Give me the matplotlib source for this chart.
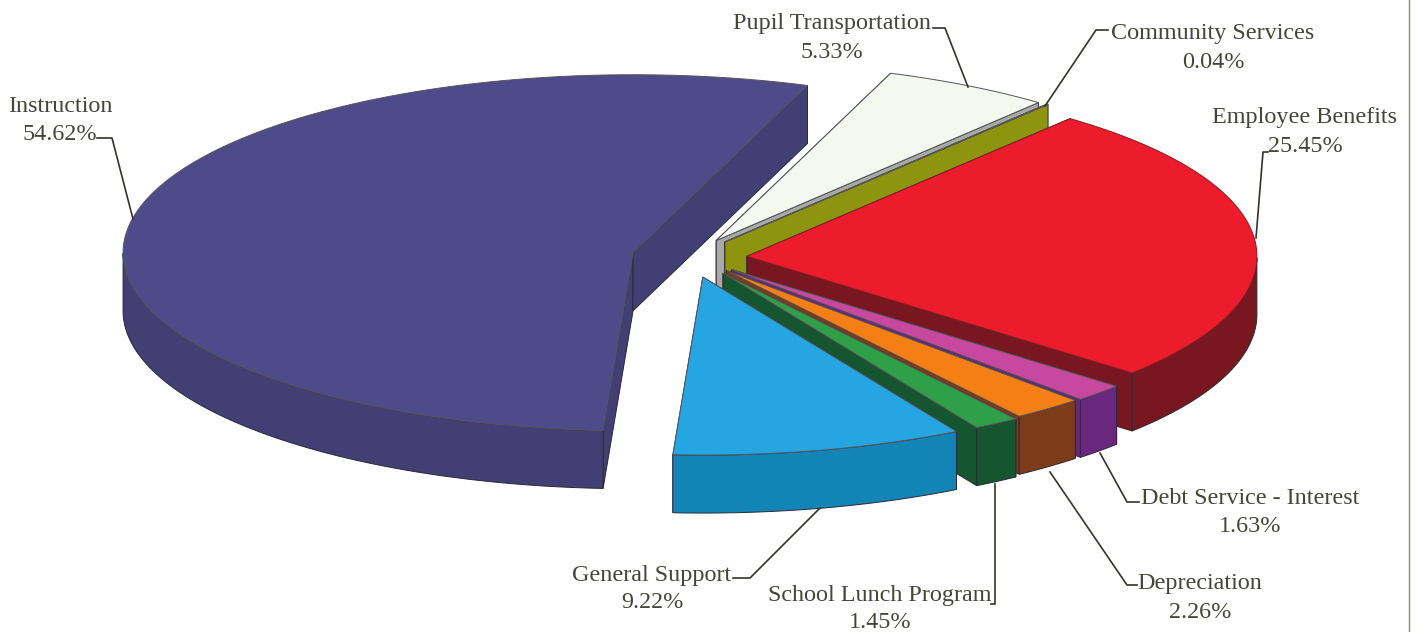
import numpy as np
import matplotlib
matplotlib.use('Agg')
import matplotlib.pyplot as plt
from matplotlib.patches import Polygon

# slices, counter clockwise from the back of the pie
names = ["Instruction", "General Support", "School Lunch Program", "Depreciation",
         "Debt Service - Interest", "Employee Benefits", "Community Services", "Pupil Transportation"]
shares = [54.62, 9.22, 1.45, 2.26, 1.63, 25.45, 0.04, 5.33]

top_colors = ["#4f4a8a", "#25a5e2", "#2f9f48", "#f57f14", "#c8489f", "#ec1c2c", "#8c9410", "#f5f8f0"]
wall_colors = ["#433f74", "#1284b6", "#15552f", "#7c3c1a", "#69287d", "#781720", "#8c9410", "#a9a9a5"]
explode = [0.118, 0.11, 0.128, 0.113, 0.11, 0.112, 0.08, 0.10]
# small pixel shifts on top of the explode, the scan is not a perfect projection
nudge = [(2, -1), (0, 0), (-2, -4), (0, -3), (1, -2), (0, 0), (9, -5), (1, -2)]
draw_order = [0, 7, 6, 5, 4, 3, 2, 1]

# label text centres and leader lines, in picture pixels
label_pos = [(60, 106), (652, 575), (880, 595), (1200, 584), (1250, 498), (1305, 118), (1213, 34), (832, 24)]
leaders = [
    [(97, 138), (112, 138), (133, 219)],
    [(733, 578), (750, 578), (820, 508)],
    [(991, 604), (995, 604), (995, 484)],
    [(1137, 585), (1127, 585), (1050, 472)],
    [(1139, 502), (1127, 502), (1100, 453)],
    [(1268, 152), (1263, 152), (1256, 238)],
    [(1108, 30), (1096, 30), (1045, 106)],
    [(933, 28), (945, 28), (968, 87)],
]

cx, cy = 690, 258
rx, ry = 510, 178
depth = 58
start_angle = 70

plt.rcParams['font.family'] = ['Liberation Serif', 'DejaVu Serif']

fig = plt.figure(figsize=(14.18, 6.32), dpi=100)
ax = fig.add_axes([0, 0, 1, 1])
ax.set_xlim(0, 1418)
ax.set_ylim(632, 0)
ax.axis('off')


def project(angle, r, ox, oy):
    return ox + rx * r * np.cos(angle), oy - ry * r * np.sin(angle)


def draw_slice(i, a0, a1):
    mid = np.radians((a0 + a1) / 2)
    ox, oy = project(mid, explode[i], cx, cy)
    ox += nudge[i][0]
    oy += nudge[i][1]
    t = np.radians(np.linspace(a0, a1, max(int(a1 - a0) * 2, 3)))
    xs, ys = project(t, 1.0, ox, oy)
    edge = "#2a2a35"

    # two cut faces first, then the front of the rim, then the top
    for k in [-1, 0]:
        face = [(ox, oy), (xs[k], ys[k]), (xs[k], ys[k] + depth), (ox, oy + depth)]
        ax.add_patch(Polygon(face, closed=True, fc=wall_colors[i], ec=edge, lw=0.7))
    front = np.sin(t) <= 0
    if front.sum() > 1:
        fx, fy = xs[front], ys[front]
        rim = list(zip(fx, fy)) + list(zip(fx[::-1], fy[::-1] + depth))
        ax.add_patch(Polygon(rim, closed=True, fc=wall_colors[i], ec=edge, lw=0.7))
    top = [(ox, oy)] + list(zip(xs, ys))
    ax.add_patch(Polygon(top, closed=True, fc=top_colors[i], ec="#55555a" if i != 5 else "#8a1a20", lw=0.7))


edges = start_angle + np.cumsum([0] + shares) * 3.6
for i in draw_order:
    draw_slice(i, edges[i], edges[i + 1])

for line in leaders:
    ax.plot([p[0] for p in line], [p[1] for p in line], color="#33332e", lw=1.2, zorder=5)

for name, share, pos in zip(names, shares, label_pos):
    ax.text(pos[0], pos[1], name, ha='center', va='center', fontsize=17.4, color="#45453e", zorder=6)
    ax.text(pos[0], pos[1] + 28, "%.2f%%" % share, ha='center', va='center', fontsize=17.4, color="#45453e", zorder=6)

# edge of the scanned page
ax.plot([1409, 1409], [0, 632], color="#8a8a84", lw=1.0, zorder=0)

fig.savefig("out.png", dpi=100)
